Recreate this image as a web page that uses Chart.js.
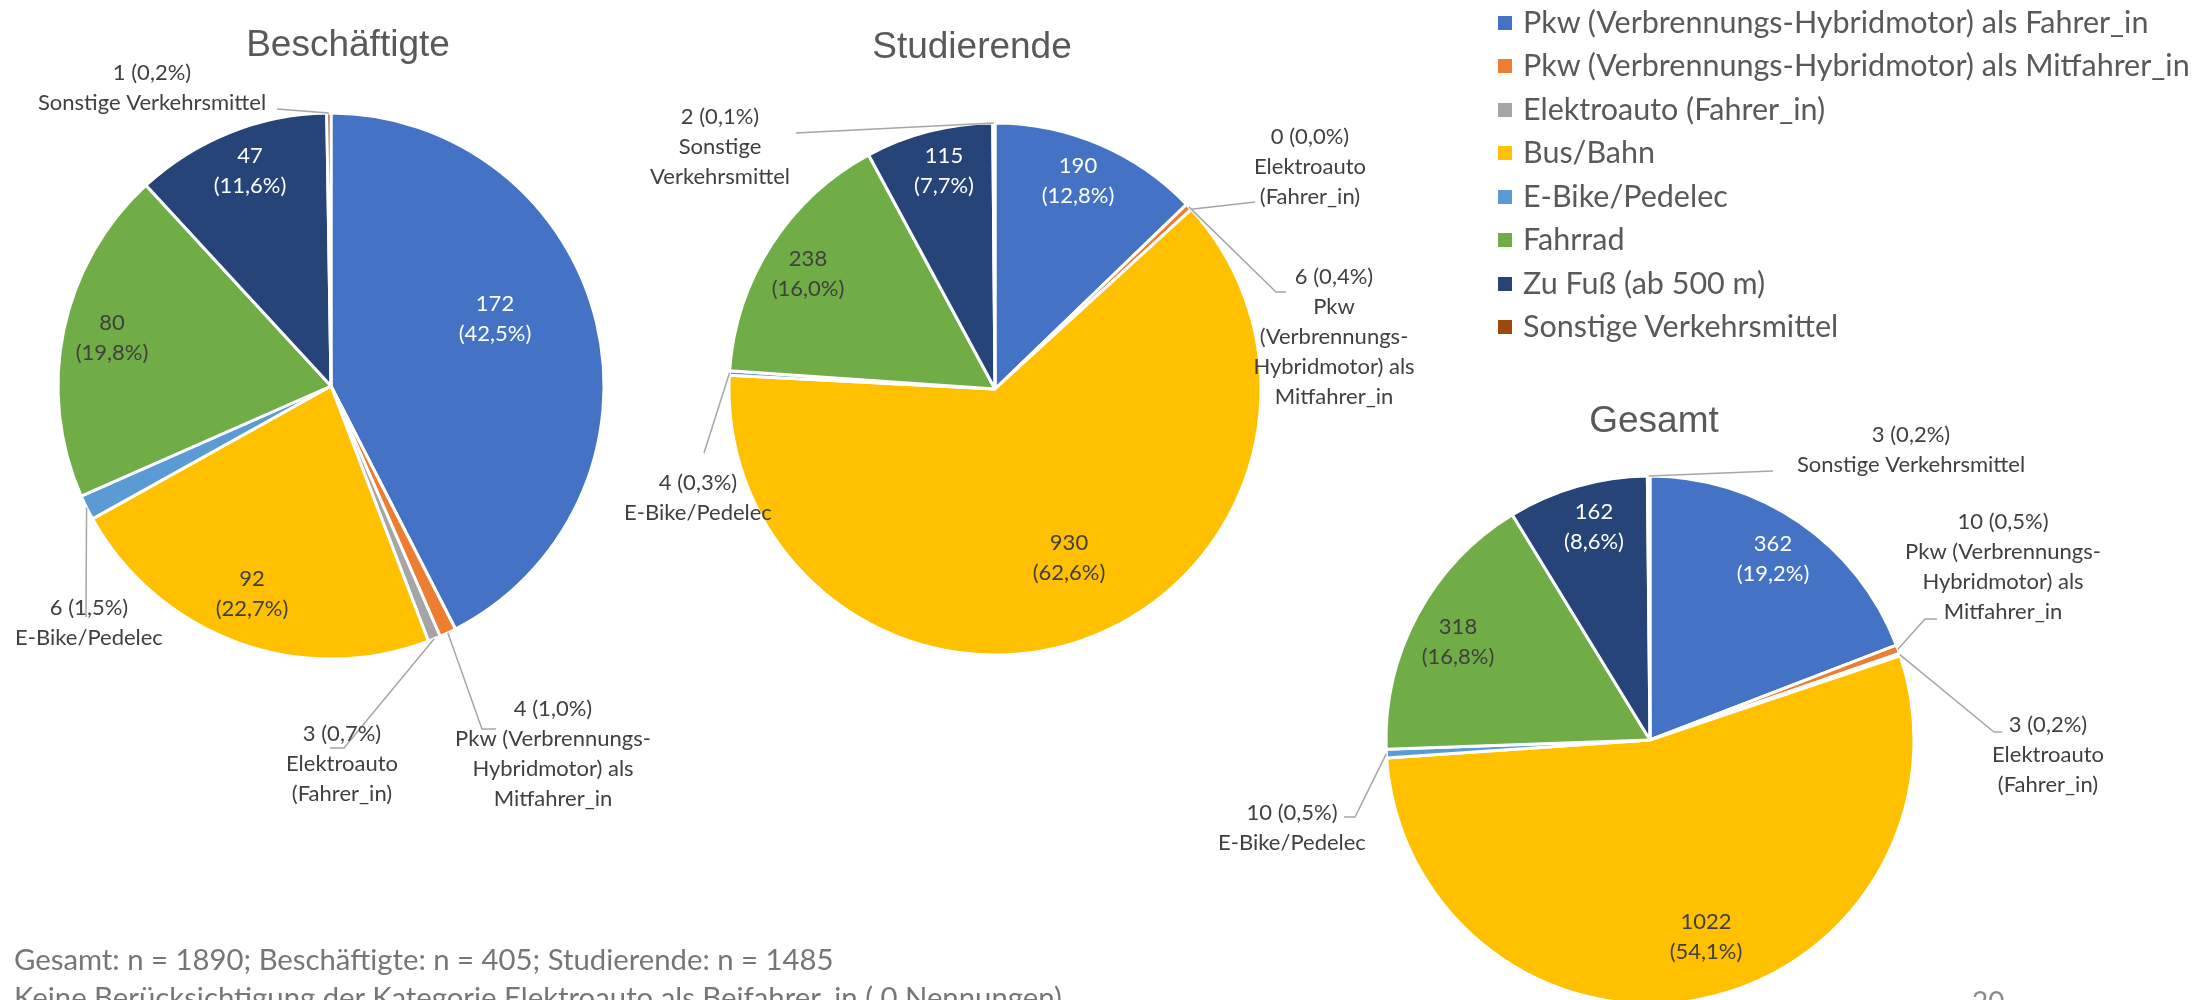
<!DOCTYPE html>
<html>
<head>
<meta charset="utf-8">
<script src="https://cdn.jsdelivr.net/npm/chart.js@4.4.0/dist/chart.umd.min.js"></script>
<style>
html, body { margin: 0; padding: 0; background: #fff; width: 2192px; height: 1000px; overflow: hidden; }
.layer { position: absolute; left: 0; top: 0; }
#legend { position: absolute; left: 1498px; top: 0; font-family: Lato, sans-serif; font-size: 30.5px; color: #595959; }
#legend .row { position: absolute; left: 0; white-space: nowrap; height: 40px; line-height: 40px; }
#legend .box { display: inline-block; width: 14px; height: 14px; margin-right: 11px; vertical-align: middle; position: relative; top: -2px; }
#note { position: absolute; left: 14px; top: 940px; font-family: Lato, sans-serif; font-size: 29.3px; line-height: 38px; color: #767676; white-space: nowrap; }
#page { position: absolute; left: 1972px; top: 984px; font-family: Lato, sans-serif; font-size: 28px; color: #8c8c8c; }
</style>
</head>
<body>
<canvas id="c1" class="layer" width="2192" height="1000"></canvas>
<canvas id="c2" class="layer" width="2192" height="1000"></canvas>
<canvas id="c3" class="layer" width="2192" height="1000"></canvas>
<div id="legend"></div>
<div id="note"></div>
<div id="page">20</div>
<script>
// categories and counts
var categories = [
    'Pkw (Verbrennungs-Hybridmotor) als Fahrer_in',
    'Pkw (Verbrennungs-Hybridmotor) als Mitfahrer_in',
    'Elektroauto (Fahrer_in)',
    'Bus/Bahn',
    'E-Bike/Pedelec',
    'Fahrrad',
    'Zu Fuß (ab 500 m)',
    'Sonstige Verkehrsmittel'
];
var beschaeftigte = [172, 4, 3, 92, 6, 80, 47, 1];
var studierende = [190, 6, 0, 930, 4, 238, 115, 2];
var gesamt = [362, 10, 3, 1022, 10, 318, 162, 3];
var colors = ['#4472C4', '#ED7D31', '#A5A5A5', '#FFC000', '#5B9BD5', '#70AD47', '#264478', '#9E480E'];
var notes = [
    'Gesamt: n = 1890; Beschäftigte: n = 405; Studierende: n = 1485',
    'Keine Berücksichtigung der Kategorie Elektroauto als Beifahrer_in ( 0 Nennungen)'
];

var W = 2192, H = 1000;

function fmtPct(v, total){
    return (v / total * 100).toFixed(1).replace('.', ',') + '%';
}

function wrapText(ctx, text, maxW){
    var tokens = text.split(/(?<=[ -])/);
    var out = [], line = '';
    tokens.forEach(function(t){
        var test = line + t;
        if (line !== '' && ctx.measureText(test.trim()).width > maxW) {
            out.push(line.trim());
            line = t;
        } else {
            line = test;
        }
    });
    if (line.trim() !== '') out.push(line.trim());
    return out;
}

// draws title, data labels and leader lines
var sliceLabels = {
    id: 'sliceLabels',
    afterDatasetsDraw: function(chart, args, opts){
        var ctx = chart.ctx;
        var meta = chart.getDatasetMeta(0);
        var data = chart.data.datasets[0].data;
        var total = data.reduce(function(a, b){ return a + b; }, 0);
        var cx = meta.data[0].x, cy = meta.data[0].y;
        ctx.save();
        ctx.textAlign = 'center';
        ctx.textBaseline = 'middle';
        ctx.fillStyle = '#595959';
        ctx.font = '37px "Liberation Sans", Arial, sans-serif';
        ctx.fillText(opts.title, cx + opts.titleX, cy + opts.titleY);

        ctx.font = '22px Lato, sans-serif';
        opts.labels.forEach(function(l, i){
            var arc = meta.data[i].getProps(['x', 'y', 'startAngle', 'endAngle', 'outerRadius'], true);
            var v = data[i];
            var lines;
            if (l.inside) {
                lines = [String(v), '(' + fmtPct(v, total) + ')'];
            } else {
                lines = [v + ' (' + fmtPct(v, total) + ')'].concat(wrapText(ctx, categories[i], l.wrap || 400));
            }
            if (l.line) {
                var a = (arc.startAngle + arc.endAngle) / 2;
                ctx.beginPath();
                ctx.moveTo(arc.x + Math.cos(a) * arc.outerRadius, arc.y + Math.sin(a) * arc.outerRadius);
                l.line.forEach(function(p){ ctx.lineTo(cx + p[0], cy + p[1]); });
                ctx.strokeStyle = '#A6A6A6';
                ctx.lineWidth = 1.5;
                ctx.stroke();
            }
            ctx.fillStyle = l.color || '#404040';
            var lh = 30;
            var y0 = cy + l.y - (lines.length - 1) * lh / 2;
            lines.forEach(function(t, k){
                ctx.fillText(t, cx + l.x, y0 + k * lh);
            });
        });
        ctx.restore();
    }
};

function makePie(id, values, center, radius, labelOpts){
    var half = Math.min(center[0], W - center[0], center[1], H - center[1]);
    return new Chart(document.getElementById(id), {
        type: 'pie',
        data: {
            labels: categories,
            datasets: [{
                data: values,
                backgroundColor: colors,
                borderColor: '#ffffff',
                borderWidth: 3
            }]
        },
        options: {
            responsive: false,
            animation: false,
            radius: radius,
            layout: {
                padding: {
                    left: center[0] - half,
                    right: W - center[0] - half,
                    top: center[1] - half,
                    bottom: H - center[1] - half
                }
            },
            plugins: {
                legend: { display: false },
                tooltip: { enabled: false },
                sliceLabels: labelOpts
            }
        },
        plugins: [sliceLabels]
    });
}

makePie('c1', beschaeftigte, [331, 386], 273, {
    title: 'Beschäftigte', titleX: 17, titleY: -340,
    labels: [
        { inside: true, x: 164, y: -67, color: '#ffffff' },
        { x: 222, y: 368, wrap: 215, line: [[151, 343], [165, 343]] },
        { x: 11, y: 378, wrap: 160, line: [[13, 362], [-1, 362]] },
        { inside: true, x: -79, y: 208 },
        { x: -242, y: 237, line: [[-245, 231]] },
        { inside: true, x: -219, y: -48 },
        { inside: true, x: -81, y: -215, color: '#ffffff' },
        { x: -179, y: -298, line: [[-54, -277]] }
    ]
});

makePie('c2', studierende, [995, 389], 266, {
    title: 'Studierende', titleX: -23, titleY: -341,
    labels: [
        { inside: true, x: 83, y: -208, color: '#ffffff' },
        { x: 339, y: -52, wrap: 188, line: [[281, -97], [291, -97]] },
        { x: 315, y: -222, wrap: 160, line: [[260, -187]] },
        { inside: true, x: 74, y: 169 },
        { x: -297, y: 109, line: [[-291, 64]] },
        { inside: true, x: -187, y: -115 },
        { inside: true, x: -51, y: -218, color: '#ffffff' },
        { x: -275, y: -242, wrap: 160, line: [[-199, -256]] }
    ]
});

makePie('c3', gesamt, [1650, 740], 264, {
    title: 'Gesamt', titleX: 4, titleY: -318,
    labels: [
        { inside: true, x: 123, y: -181, color: '#ffffff' },
        { x: 353, y: -173, wrap: 215, line: [[275, -121], [287, -121]] },
        { x: 398, y: 15, wrap: 160, line: [[344, -8], [352, -8]] },
        { inside: true, x: 56, y: 197 },
        { x: -358, y: 88, line: [[-295, 77], [-306, 77]] },
        { inside: true, x: -192, y: -98 },
        { inside: true, x: -56, y: -213, color: '#ffffff' },
        { x: 261, y: -290, line: [[123, -269]] }
    ]
});

// legend
var legend = document.getElementById('legend');
categories.forEach(function(name, i){
    var row = document.createElement('div');
    row.className = 'row';
    row.style.top = (20.5 + i * 43.5 - 20) + 'px';
    var box = document.createElement('span');
    box.className = 'box';
    box.style.background = colors[i];
    row.appendChild(box);
    row.appendChild(document.createTextNode(name));
    legend.appendChild(row);
});

var note = document.getElementById('note');
notes.forEach(function(t){
    var d = document.createElement('div');
    d.textContent = t;
    note.appendChild(d);
});
</script>
</body>
</html>
